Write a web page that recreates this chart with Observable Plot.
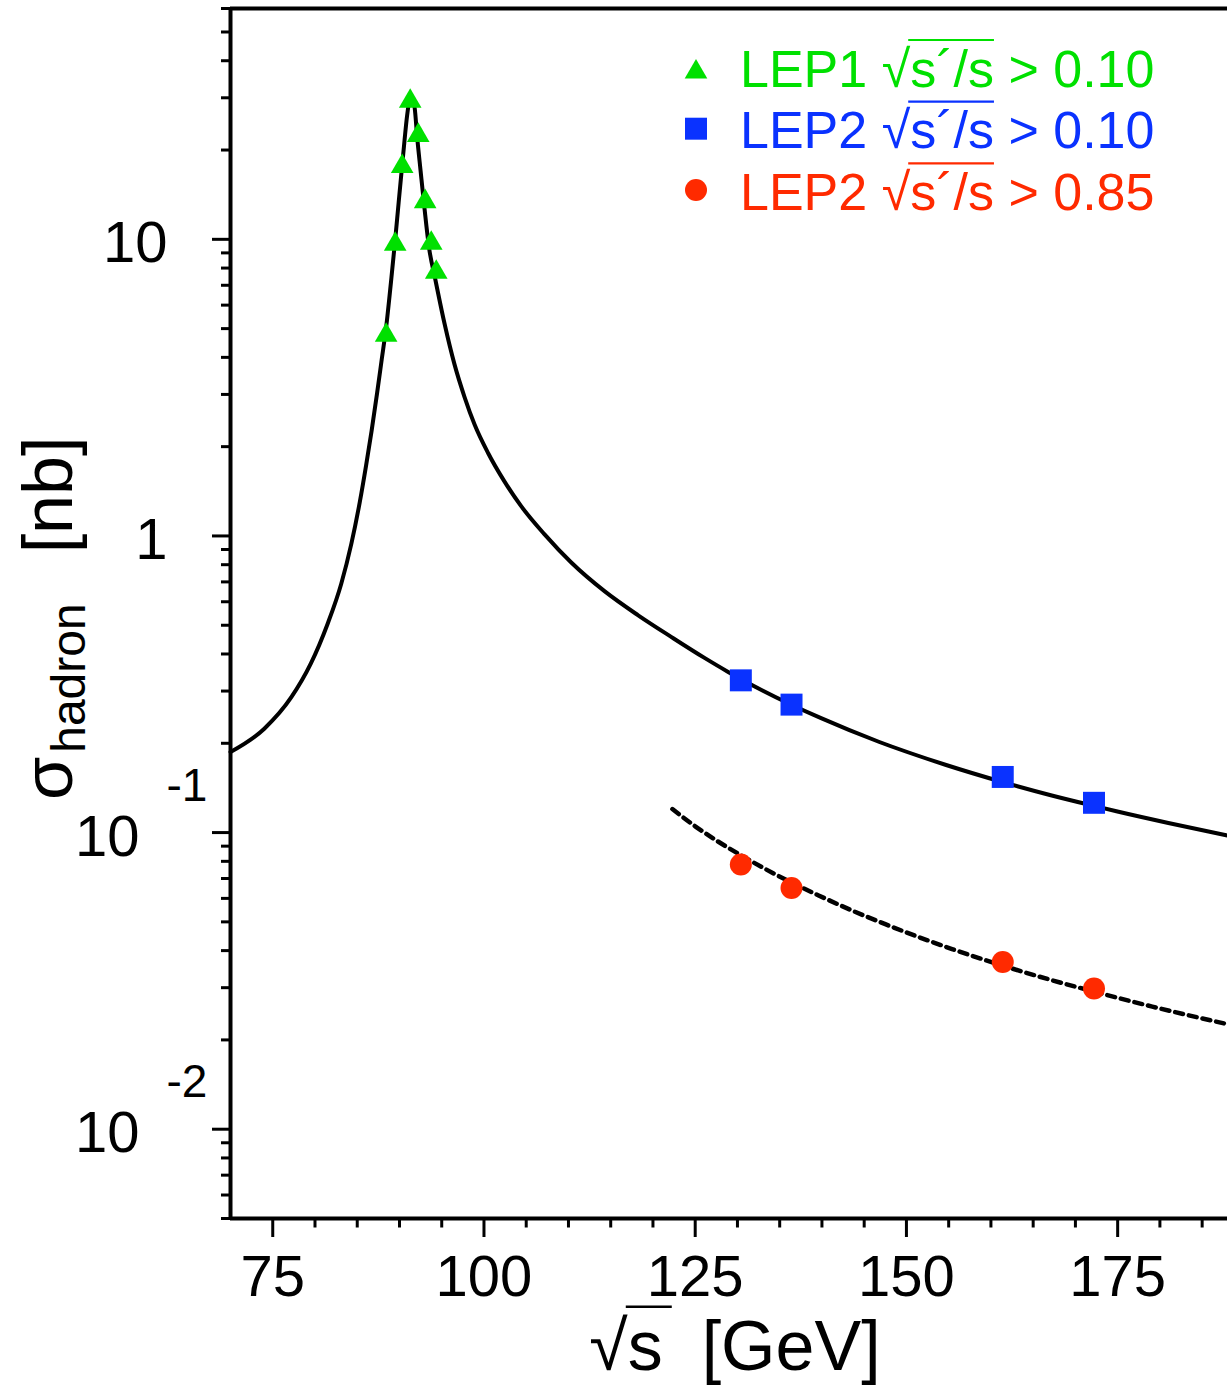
<!DOCTYPE html>
<html><head><meta charset="utf-8">
<script src="https://cdn.jsdelivr.net/npm/d3@7"></script>
<script src="https://cdn.jsdelivr.net/npm/@observablehq/plot@0.6"></script>
<style>html,body{margin:0;padding:0;background:#fff;} svg{display:block;}</style>
</head><body><div id="chart"></div>
<script>
// ---- data ----
const lep1Energy = [88.42, 89.49, 90.32, 91.27, 92.22, 93.04, 93.76, 94.35];
const lep1Sigma  = [4.75, 9.62, 17.6, 29.2, 22.4, 13.4, 9.70, 7.74];
const lep2Energy = [130.4, 136.4, 161.4, 172.2];
const lep2SigmaLoose = [0.326, 0.270, 0.154, 0.126];
const lep2SigmaTight = [0.078, 0.065, 0.0366, 0.0298];

const curveLooseE = [70.0, 74.0, 77.2, 79.5, 81.5, 83.1, 84.3, 85.3, 86.05, 86.7, 87.35, 87.9, 88.42, 89.0, 89.49, 89.9, 90.32, 90.6, 90.9, 91.2, 91.45, 91.8, 92.1, 92.5, 92.95, 93.5, 94.2, 95.33, 96.52, 97.7, 98.9, 100.5, 102.4, 104.4, 107.2, 110.3, 114.3, 118.25, 122.2, 126.1, 128.9, 132.9, 139.9, 146.8, 154.7, 161.4, 167.2, 172.2, 175.1, 181.0, 188.0];
const curveLooseS = [0.187, 0.224, 0.286, 0.371, 0.506, 0.689, 0.940, 1.30, 1.73, 2.26, 3.03, 3.94, 5.05, 7.21, 9.95, 13.3, 17.8, 21.6, 26.1, 29.5, 30.2, 27.7, 22.0, 17.0, 12.8, 9.37, 7.42, 5.20, 3.78, 2.94, 2.37, 1.90, 1.53, 1.26, 1.01, 0.815, 0.650, 0.540, 0.456, 0.388, 0.348, 0.302, 0.243, 0.202, 0.169, 0.148, 0.1334, 0.123, 0.1175, 0.1077, 0.0977];

const curveTightE = [122.3, 125.0, 127.7, 130.5, 133.25, 139.6, 143.5, 147.5, 151.4, 155.4, 161.4, 167.2, 172.2, 179.1, 188.0];
const curveTightS = [0.120, 0.105, 0.0933, 0.0836, 0.0755, 0.0614, 0.0547, 0.0491, 0.0445, 0.0405, 0.0356, 0.0318, 0.0291, 0.0259, 0.0226];

const xMajorTicks = [75, 100, 125, 150, 175];
const xTickLabels = ["75", "100", "125", "150", "175"];
const xMinorTicks = [80, 85, 90, 95, 105, 110, 115, 120, 130, 135, 140, 145, 155, 160, 165, 170, 180, 185];
const yMajorTicks = [0.01, 0.1, 1, 10];
const yMinorTicks = [0.005, 0.006, 0.007, 0.008, 0.009, 0.02, 0.03, 0.04, 0.05, 0.06, 0.07, 0.08, 0.09,
                     0.2, 0.3, 0.4, 0.5, 0.6, 0.7, 0.8, 0.9, 2, 3, 4, 5, 6, 7, 8, 9, 20, 30, 40, 50, 60];
const yLabelValues = [10, 1, 0.1, 0.01];
const yLabelBase = ["10", "1", "10", "10"];
const yLabelExp = ["", "", "-1", "-2"];

const legendNames = ["LEP1", "LEP2", "LEP2"];
const legendCuts = ["0.10", "0.10", "0.85"];

const GREEN = "#00e000", BLUE = "#0a32ff", RED = "#ff2a00";
const FONT = "'Liberation Sans', Arial, Helvetica, sans-serif";

// ---- tables ----
const lep1 = lep1Energy.map((e, i) => ({e, s: lep1Sigma[i]}));
const lep2a = lep2Energy.map((e, i) => ({e, s: lep2SigmaLoose[i]}));
const lep2b = lep2Energy.map((e, i) => ({e, s: lep2SigmaTight[i]}));
const cLoose = curveLooseE.map((e, i) => ({e, s: curveLooseS[i]}));
const cTight = curveTightE.map((e, i) => ({e, s: curveTightS[i]}));
const yLab = yLabelValues.map((v, i) => ({v, base: yLabelBase[i], exp: yLabelExp[i]}));
const xLab = xMajorTicks.map((v, i) => ({v, t: xTickLabels[i]}));

const X0 = 70, Y0 = 0.005, YTOP = 60;

const plot = Plot.plot({
  width: 1227,
  height: 1388,
  marginLeft: 230,
  marginRight: 0,
  marginTop: 8,
  marginBottom: 170,
  style: {fontFamily: FONT, background: "#fff", overflow: "visible"},
  x: {type: "linear", domain: [X0, 188], axis: null},
  y: {type: "log", domain: [Y0, YTOP], axis: null},
  marks: [
    // tick marks (outward)
    Plot.ruleX(xMajorTicks, {x: d => d, y1: Y0, y2: Y0, insetBottom: -19, stroke: "#000", strokeWidth: 3}),
    Plot.ruleX(xMinorTicks, {x: d => d, y1: Y0, y2: Y0, insetBottom: -9.5, stroke: "#000", strokeWidth: 3}),
    Plot.ruleY(yMajorTicks, {y: d => d, x1: X0, x2: X0, insetLeft: -18, stroke: "#000", strokeWidth: 3}),
    Plot.ruleY(yMinorTicks, {y: d => d, x1: X0, x2: X0, insetLeft: -9, stroke: "#000", strokeWidth: 3}),
    Plot.line(cLoose, {x: "e", y: "s", stroke: "#000", strokeWidth: 4, curve: "monotone-x"}),
    Plot.line(cTight, {x: "e", y: "s", stroke: "#000", strokeWidth: 4.5, strokeDasharray: "8,6", curve: "monotone-x"}),
    Plot.dot(lep1, {x: "e", y: "s", symbol: "triangle", r: 8.4, fill: GREEN, stroke: "none"}),
    Plot.dot(lep2a, {x: "e", y: "s", symbol: "square", r: 12.4, fill: BLUE, stroke: "none"}),
    Plot.dot(lep2b, {x: "e", y: "s", symbol: "circle", r: 11, fill: RED, stroke: "none"}),
    // frame
    Plot.ruleX([X0], {stroke: "#000", strokeWidth: 4}),
    Plot.ruleY([Y0], {stroke: "#000", strokeWidth: 4}),
    Plot.ruleY([YTOP], {stroke: "#000", strokeWidth: 4}),
    // y tick labels
    Plot.text(yLab.filter(d => d.exp === ""), {y: "v", text: "base", frameAnchor: "left", textAnchor: "end", lineAnchor: "bottom", dx: -63, dy: 23, fontSize: 58, fill: "#000"}),
    Plot.text(yLab.filter(d => d.exp !== ""), {y: "v", text: "base", frameAnchor: "left", textAnchor: "end", lineAnchor: "bottom", dx: -91, dy: 23, fontSize: 58, fill: "#000"}),
    Plot.text(yLab.filter(d => d.exp !== ""), {y: "v", text: "exp", frameAnchor: "left", textAnchor: "start", lineAnchor: "bottom", dx: -64, dy: -32, fontSize: 46, fill: "#000"}),
    // x tick labels
    Plot.text(xLab, {x: "v", text: "t", frameAnchor: "bottom", textAnchor: "middle", lineAnchor: "bottom", dy: 77, fontSize: 58, fill: "#000"})
  ]
});
document.getElementById("chart").appendChild(plot);

const svg = d3.select(plot);
// enforce line widths
const lineGroups = svg.selectAll('g[aria-label="line"]').nodes();
if (lineGroups[0]) d3.select(lineGroups[0]).attr("stroke-width", 4).selectAll("path").attr("stroke-width", 4);
if (lineGroups[1]) d3.select(lineGroups[1]).attr("stroke-width", 4.5).selectAll("path").attr("stroke-width", 4.5).attr("stroke-dasharray", "8,6");

// ---- legend ----
const legColors = [GREEN, BLUE, RED];
const legSymbols = [d3.symbolTriangle, d3.symbolSquare, d3.symbolCircle];
const legR = [8.4, 12.4, 11];
const legMarkerY = [72, 128.7, 190];
const leg = svg.append("g").attr("font-family", FONT).attr("font-size", 52).attr("text-anchor", "start");
legendNames.forEach((name, i) => {
  const base = 86.7 + i * 61.7;
  leg.append("path")
    .attr("d", d3.symbol(legSymbols[i], Math.PI * legR[i] * legR[i])())
    .attr("transform", `translate(696,${legMarkerY[i]})`)
    .attr("fill", legColors[i]);
  const t = leg.append("text").attr("x", 740).attr("y", base).attr("fill", legColors[i]).attr("text-anchor", "start");
  const pre = name + "\u00a0";
  t.append("tspan").text(pre);
  t.append("tspan").text("\u221a");
  t.append("tspan").text("s\u00b4/s");
  t.append("tspan").text("\u00a0>\u00a0" + legendCuts[i]);
  const node = t.node();
  const x0 = node.getEndPositionOfChar(pre.length).x - 2;
  const x1 = node.getEndPositionOfChar(pre.length + 4).x;
  leg.append("line").attr("x1", x0).attr("x2", x1).attr("y1", base - 46.7).attr("y2", base - 46.7)
    .attr("stroke", legColors[i]).attr("stroke-width", 2.2);
});

// ---- x axis title ----
const xt = svg.append("text").attr("font-family", FONT).attr("font-size", 70)
  .attr("x", 735).attr("y", 1370).attr("text-anchor", "middle").attr("fill", "#000");
xt.append("tspan").text("\u221a");
xt.append("tspan").text("s");
xt.append("tspan").text("\u00a0\u00a0[GeV]");
{
  const n = xt.node();
  const a = n.getEndPositionOfChar(0).x - 2;
  const b = n.getEndPositionOfChar(1).x + 9;
  svg.append("line").attr("x1", a).attr("x2", b).attr("y1", 1306.7).attr("y2", 1306.7)
    .attr("stroke", "#000").attr("stroke-width", 2.5);
}

// ---- y axis title ----
const yt = svg.append("text").attr("font-family", FONT).attr("fill", "#000").attr("text-anchor", "start")
  .attr("transform", "translate(71.7,800) rotate(-90)");
yt.append("tspan").attr("font-size", 70).text("\u03c3");
yt.append("tspan").attr("font-size", 48).attr("dy", 13).attr("dx", 4).text("hadron");
yt.append("tspan").attr("font-size", 70).attr("dy", -13).attr("dx", 50).text("[nb]");
</script>
</body></html>
